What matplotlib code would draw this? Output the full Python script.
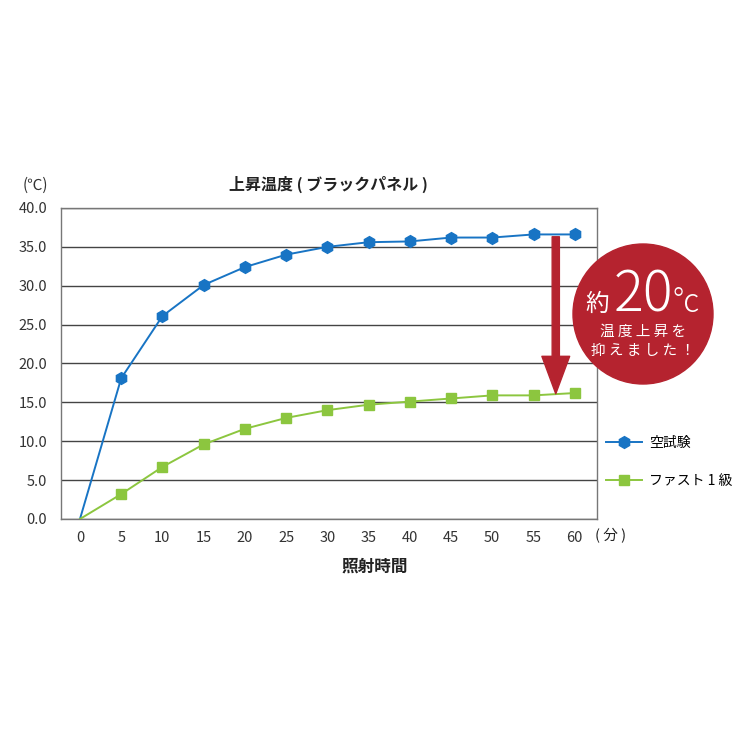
import numpy as np
import matplotlib
matplotlib.use("Agg")
import matplotlib.pyplot as plt
from matplotlib.patches import Circle

plt.rcParams['font.family'] = ['Noto Sans CJK JP', 'DejaVu Sans']

# data
minutes = [0, 5, 10, 15, 20, 25, 30, 35, 40, 45, 50, 55, 60]
blank_test = [0.0, 18.1, 26.1, 30.1, 32.4, 34.0, 35.0, 35.6, 35.7, 36.2, 36.2, 36.6, 36.6]
fast_grade1 = [0.0, 3.2, 6.7, 9.6, 11.6, 13.0, 14.0, 14.7, 15.1, 15.5, 15.9, 15.9, 16.2]
series_names = ["空試験", "ファスト 1 級"]
y_ticks = np.arange(0, 40.1, 5)

BLUE = "#1874c4"
GREEN = "#8cc63f"
RED = "#b5232f"

fig = plt.figure(figsize=(7.5, 7.5), dpi=100)
ax = fig.add_axes([61 / 750, 1 - 519 / 750, 536 / 750, 311 / 750])

# no marker on the starting point
ax.plot(minutes, blank_test, color=BLUE, lw=1.4, marker="h", ms=8.5,
        mfc=BLUE, mec=BLUE, markevery=slice(1, None), label=series_names[0], zorder=3)
ax.plot(minutes, fast_grade1, color=GREEN, lw=1.4, marker="s", ms=7,
        mfc=GREEN, mec=GREEN, markevery=slice(1, None), label=series_names[1], zorder=3)

ax.set_xlim(-2.3, 62.7)
ax.set_ylim(0, 40)
ax.set_xticks(minutes)
ax.set_yticks(y_ticks)
ax.set_yticklabels([f"{v:.1f}" for v in y_ticks])
ax.tick_params(length=0, labelsize=10.5, colors="#333333")
ax.tick_params(axis="x", pad=9)
ax.tick_params(axis="y", pad=10)
ax.yaxis.grid(True, color="#444444", lw=1.0)
ax.set_axisbelow(True)
for s in ax.spines.values():
    s.set_color("#777777")
    s.set_linewidth(1.0)

# arrow showing the difference
ax.annotate("", xy=(57.7, 16.1), xytext=(57.7, 36.3),
            arrowprops=dict(arrowstyle="simple,head_width=1.0,head_length=1.35,tail_width=0.26",
                            mutation_scale=20, color=RED, shrinkA=0, shrinkB=0),
            zorder=4)

# red badge
fig.add_artist(Circle((643 / 750, 1 - 314 / 750), 70 / 750, transform=fig.transFigure,
                      color=RED, zorder=5))
fig.text(597 / 750, 1 - 311 / 750, "約", color="white", fontsize=17,
         ha="center", va="baseline", zorder=6)
fig.text(643 / 750, 1 - 312 / 750, "20", color="white", fontsize=40,
         ha="center", va="baseline", zorder=6, fontweight="light")
fig.text(686 / 750, 1 - 312 / 750, "°c", color="white", fontsize=23,
         ha="center", va="baseline", zorder=6, fontweight="light")
fig.text(643 / 750, 1 - 332 / 750, "温 度 上 昇 を", color="white", fontsize=10.5,
         ha="center", va="center", zorder=6)
fig.text(643 / 750, 1 - 351 / 750, "抑 え ま し た ！", color="white", fontsize=10.5,
         ha="center", va="center", zorder=6)

ax.legend(loc="upper left", bbox_to_anchor=(599 / 750, 1 - 429 / 750),
          bbox_transform=fig.transFigure, frameon=False, fontsize=10,
          handlelength=2.6, labelspacing=1.75, handletextpad=0.5, borderpad=0)

fig.text(328 / 750, 1 - 184 / 750, "上昇温度 ( ブラックパネル )", fontsize=11.5,
         fontweight="bold", ha="center", va="center", color="#222222")
fig.text(35 / 750, 1 - 185 / 750, "(℃)", fontsize=11, ha="center", va="center",
         color="#333333")
fig.text(611 / 750, 1 - 536 / 750, "( 分 )", fontsize=10.5, ha="center", va="center",
         color="#222222")
fig.text(375 / 750, 1 - 567 / 750, "照射時間", fontsize=12, fontweight="bold",
         ha="center", va="center", color="#222222")

fig.savefig("out.png", dpi=100)
